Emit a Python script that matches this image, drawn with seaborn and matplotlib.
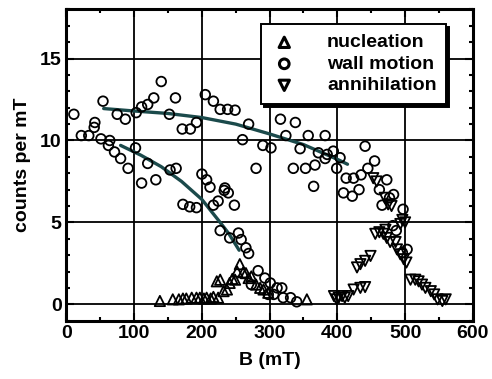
import numpy as np
import pandas as pd
import matplotlib
matplotlib.use("Agg")
import matplotlib.pyplot as plt
from matplotlib.ticker import MultipleLocator
import seaborn as sns

# nucleation events (up triangles)
nuc_B = [138, 157, 166, 172, 177, 185, 192, 197, 203, 207, 213, 217, 224, 222, 227,
         232, 237, 241, 245, 249, 252, 256, 261, 265, 269, 273, 280, 286, 291, 298, 355]
nuc_counts = [0.2, 0.3, 0.3, 0.35, 0.35, 0.4, 0.4, 0.4, 0.35, 0.4, 0.35, 0.45, 0.4, 1.4, 1.5,
              0.8, 0.9, 1.3, 1.55, 1.5, 2.0, 2.45, 1.95, 1.9, 1.6, 1.7, 1.2, 1.0, 0.9, 0.7, 0.3]

# wall motion events (circles)
wall_B = [11, 22, 33, 42, 41, 54, 51, 64, 62, 71, 80, 91, 75, 87, 103, 111, 120, 129, 140, 161,
          152, 171, 183, 192, 102, 120, 153, 162, 132, 111,
          172, 182, 192, 200, 207, 212, 217, 224, 233, 239, 248,
          205, 217, 227, 238, 249, 260, 269,
          290, 302, 280, 316, 338, 324, 345, 357, 382, 335, 353, 367, 372, 382, 234, 365,
          385, 394, 404, 399, 441, 455, 445, 413, 424, 435, 409, 422, 432, 473, 462, 483, 466,
          497, 477, 487, 482, 503, 496,
          227, 241, 254, 258, 265, 269, 283, 293, 273, 301, 311, 318, 306, 298, 320, 331, 340]
wall_counts = [11.6, 10.3, 10.3, 11.1, 10.8, 12.4, 10.1, 10.0, 9.7, 9.3, 8.9, 8.3, 11.6, 11.3, 11.7,
               12.05, 12.2, 12.6, 13.6, 12.6,
               11.6, 10.7, 10.7, 11.1, 9.55, 8.6, 8.2, 8.3, 7.6, 7.4,
               6.1, 5.95, 5.9, 7.95, 7.6, 7.15, 6.05, 6.3, 6.95, 6.8, 6.05,
               12.8, 12.4, 11.9, 11.9, 11.85, 10.05, 11.0,
               9.7, 9.55, 8.3, 11.3, 11.1, 10.3, 9.5, 10.3, 10.3, 8.3, 8.3, 8.5, 9.25, 8.9, 7.1, 7.2,
               9.15, 9.35, 8.95, 8.3, 9.65, 8.75, 8.3, 7.7, 7.7, 7.9, 6.8, 6.6, 7.0, 7.6, 7.0, 6.7, 6.05,
               5.8, 6.5, 4.5, 4.8, 3.35, 3.15,
               4.5, 4.05, 4.35, 3.95, 3.45, 3.1, 2.05, 1.6, 1.2, 1.3, 1.0, 1.0, 0.6, 0.6, 0.4, 0.4, 0.15]

# annihilation events (down triangles)
ann_B = [395, 399, 402, 407, 411, 416, 424, 434, 441, 429, 434, 441, 449,
         456, 462, 468, 471, 473, 478, 486, 488, 493, 498, 502, 493, 500, 496,
         453, 458, 470, 480, 475,
         508, 515, 520, 525, 530, 538, 543, 548, 555, 560]
ann_counts = [0.5, 0.3, 0.4, 0.5, 0.4, 0.5, 0.9, 1.0, 1.05, 2.25, 2.45, 2.65, 2.95,
              4.3, 4.4, 4.3, 4.55, 4.05, 3.8, 3.8, 3.35, 3.05, 2.75, 2.55, 4.9, 5.0, 5.15,
              7.7, 7.5, 6.5, 6.0, 6.1,
              1.5, 1.5, 1.4, 1.2, 1.0, 0.8, 0.6, 0.3, 0.2, 0.3]

# fitted curves
fit_hi_B = [55, 100, 150, 200, 250, 300, 350, 400, 415]
fit_hi = [11.95, 11.8, 11.65, 11.4, 11.0, 10.4, 9.75, 8.85, 8.55]
fit_lo_B = [80, 110, 140, 170, 200, 225, 240, 255]
fit_lo = [9.7, 9.1, 8.4, 7.5, 6.4, 5.1, 4.3, 3.3]

sns.set_style("ticks")
plt.rcParams['font.family'] = ['Liberation Sans', 'DejaVu Sans']
plt.rcParams['font.weight'] = 'bold'
plt.rcParams['text.color'] = 'black'
plt.rcParams['axes.labelcolor'] = 'black'
plt.rcParams['xtick.color'] = 'black'
plt.rcParams['ytick.color'] = 'black'

fig = plt.figure(figsize=(4.92, 3.79), dpi=100)
ax = fig.add_axes([0.135, 0.154, 0.826, 0.821])

ax.grid(True, which='major', color='black', linewidth=1.3)
ax.set_axisbelow(True)

fit_color = '#1b4a4b'
sns.lineplot(x=fit_hi_B, y=fit_hi, color=fit_color, linewidth=2.4, ax=ax, zorder=3)
sns.lineplot(x=fit_lo_B, y=fit_lo, color=fit_color, linewidth=2.4, ax=ax, zorder=3)

mk = dict(facecolor='none', edgecolor='black', linewidth=1.3, ax=ax, zorder=4)
sns.scatterplot(x=wall_B, y=wall_counts, marker='o', s=48, label='wall motion', **mk)
sns.scatterplot(x=nuc_B, y=nuc_counts, marker='^', s=55, label='nucleation', **mk)
sns.scatterplot(x=ann_B, y=ann_counts, marker='v', s=55, label='annihilation', **mk)

ax.set_xlim(0, 600)
ax.set_ylim(-1.0, 18.0)
ax.set_xticks([0, 100, 200, 300, 400, 500, 600])
ax.set_yticks([0, 5, 10, 15])
ax.xaxis.set_minor_locator(MultipleLocator(50))
ax.yaxis.set_minor_locator(MultipleLocator(1))
ax.tick_params(which='both', direction='in', top=True, right=True, width=1.5,
               labelsize=14, colors='black', labelcolor='black')
ax.tick_params(which='major', length=6)
ax.tick_params(which='minor', length=3)
for lab in ax.get_xticklabels() + ax.get_yticklabels():
    lab.set_fontweight('bold')
for sp in ax.spines.values():
    sp.set_linewidth(2.2)
    sp.set_color('black')

ax.set_xlabel('B (mT)', fontsize=14, fontweight='bold', labelpad=7, color='black')
ax.set_ylabel('counts per mT', fontsize=14, fontweight='bold', labelpad=6, color='black')

handles, labels = ax.get_legend_handles_labels()
order = [labels.index(n) for n in ['nucleation', 'wall motion', 'annihilation']]
leg = ax.legend([handles[i] for i in order], [labels[i] for i in order],
                loc='upper right', bbox_to_anchor=(0.935, 0.953), borderaxespad=0,
                frameon=True, fancybox=False, edgecolor='black', framealpha=1,
                shadow={'color': 'black', 'alpha': 1}, prop={'weight': 'bold', 'size': 14},
                handletextpad=1.5, labelspacing=0.2, borderpad=0.5, handlelength=1.4)
leg.get_frame().set_linewidth(1.4)
for h in leg.legend_handles:
    h.set_linewidth(2.2)

fig.savefig('out.png', dpi=100)
